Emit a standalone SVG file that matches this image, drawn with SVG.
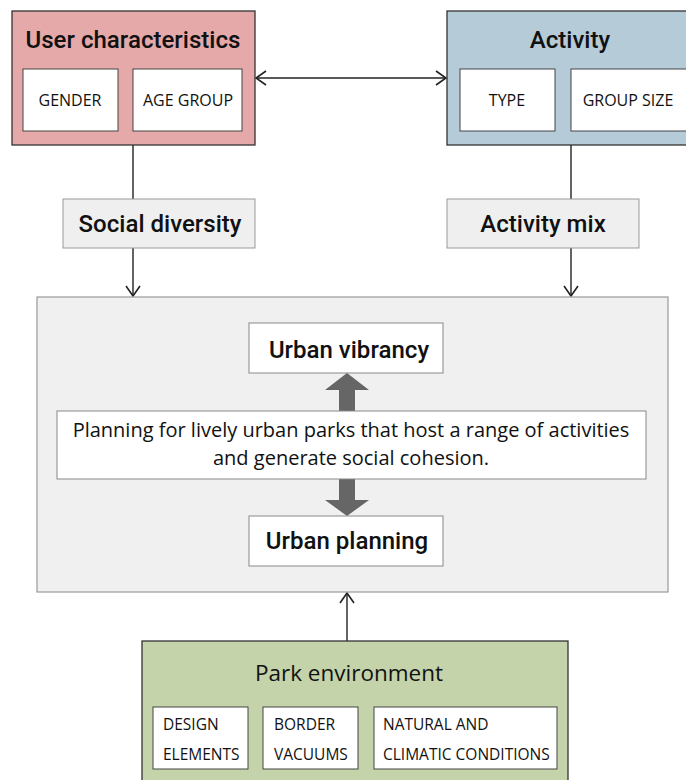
<svg xmlns="http://www.w3.org/2000/svg" width="686" height="780" viewBox="0 0 686 780">
<defs>
<style>
.outer{stroke:#333;stroke-width:1.3}
.inner{fill:#fff;stroke:#444;stroke-width:1}
.grey{fill:#efefef;stroke:#999;stroke-width:1}
.wbox{fill:#fff;stroke:#888;stroke-width:1}
.title{font-family:"Roboto Medium",Roboto,"Noto Sans",sans-serif;font-weight:500;font-size:24px;fill:#111;text-anchor:middle}
.cap{font-family:"Open Sans","Noto Sans",sans-serif;font-size:16px;fill:#111;text-anchor:middle}
.capl{font-family:"Open Sans","Noto Sans",sans-serif;font-size:15.5px;fill:#111}
.body{font-family:"Open Sans","Noto Sans",sans-serif;font-size:20px;fill:#111;text-anchor:middle}
.line{stroke:#222;stroke-width:1.4;fill:none}
</style>
<marker id="ah" viewBox="0 0 12 16" refX="11" refY="8" markerWidth="12" markerHeight="16" markerUnits="userSpaceOnUse" orient="auto-start-reverse">
<path d="M1,1 L11,8 L1,15" fill="none" stroke="#222" stroke-width="1.6"/>
</marker>
</defs>

<g id="connectors">
<line class="line" x1="256" y1="78" x2="446" y2="78" marker-start="url(#ah)" marker-end="url(#ah)"/>
<line class="line" x1="133" y1="145" x2="133" y2="199"/>
<line class="line" x1="133" y1="248" x2="133" y2="296" marker-end="url(#ah)"/>
<line class="line" x1="571" y1="145" x2="571" y2="199"/>
<line class="line" x1="571" y1="248" x2="571" y2="296" marker-end="url(#ah)"/>
<line class="line" x1="347" y1="641" x2="347" y2="593" marker-end="url(#ah)"/>
</g>

<g id="user-characteristics">
<rect class="outer" x="12" y="11" width="243" height="134" fill="#e5a9a9"/>
<text class="title" x="133" y="48" font-size="23.5">User characteristics</text>
<rect class="inner" x="23" y="69" width="95" height="62"/>
<text class="cap" x="70" y="106">GENDER</text>
<rect class="inner" x="133" y="69" width="109" height="62"/>
<text class="cap" x="188" y="106">AGE GROUP</text>
</g>

<g id="activity">
<rect class="outer" x="447" y="11" width="250" height="134" fill="#b5cbd7"/>
<text class="title" x="570" y="48">Activity</text>
<rect class="inner" x="460" y="69" width="95" height="62"/>
<text class="cap" x="507" y="106">TYPE</text>
<rect class="inner" x="571" y="69" width="120" height="62"/>
<text class="cap" x="628" y="106">GROUP SIZE</text>
</g>

<g id="social-diversity">
<rect class="grey" x="63" y="199" width="192" height="49"/>
<text class="title" x="160" y="232">Social diversity</text>
</g>

<g id="activity-mix">
<rect class="grey" x="447" y="199" width="192" height="49"/>
<text class="title" x="543" y="232">Activity mix</text>
</g>

<g id="urban-core">
<rect x="37" y="297" width="631" height="295" fill="#f0f0f0" stroke="#999" stroke-width="1.2"/>
</g>

<g id="urban-vibrancy">
<rect class="wbox" x="249" y="323" width="194" height="50"/>
<text class="title" x="349" y="358">Urban vibrancy</text>
</g>

<g id="block-arrows">
<path d="M339,411 L339,390 L325,390 L347,373 L369,390 L355,390 L355,411 Z" fill="#666"/>
<path d="M339,479 L339,500 L325,500 L347,516 L369,500 L355,500 L355,479 Z" fill="#666"/>
</g>

<g id="planning-statement">
<rect class="wbox" x="57" y="411" width="589" height="68"/>
<text class="body" x="351" y="437">Planning for lively urban parks that host a range of activities</text>
<text class="body" x="351" y="465">and generate social cohesion.</text>
</g>

<g id="urban-planning">
<rect class="wbox" x="249" y="516" width="194" height="50"/>
<text class="title" x="347" y="549">Urban planning</text>
</g>

<g id="park-environment">
<rect class="outer" x="142" y="641" width="426" height="150" fill="#c4d3aa"/>
<text x="349" y="681" style="font-family:'Open Sans','Noto Sans',sans-serif;font-size:22.5px;font-weight:500;fill:#111;text-anchor:middle">Park environment</text>
<rect class="inner" x="153" y="707" width="95" height="62"/>
<text class="capl" x="163" y="730">DESIGN</text>
<text class="capl" x="163" y="760">ELEMENTS</text>
<rect class="inner" x="263" y="707" width="95" height="62"/>
<text class="capl" x="274" y="730">BORDER</text>
<text class="capl" x="274" y="760">VACUUMS</text>
<rect class="inner" x="374" y="707" width="183" height="62"/>
<text class="capl" x="383" y="730">NATURAL AND</text>
<text class="capl" x="383" y="760">CLIMATIC CONDITIONS</text>
</g>
</svg>
